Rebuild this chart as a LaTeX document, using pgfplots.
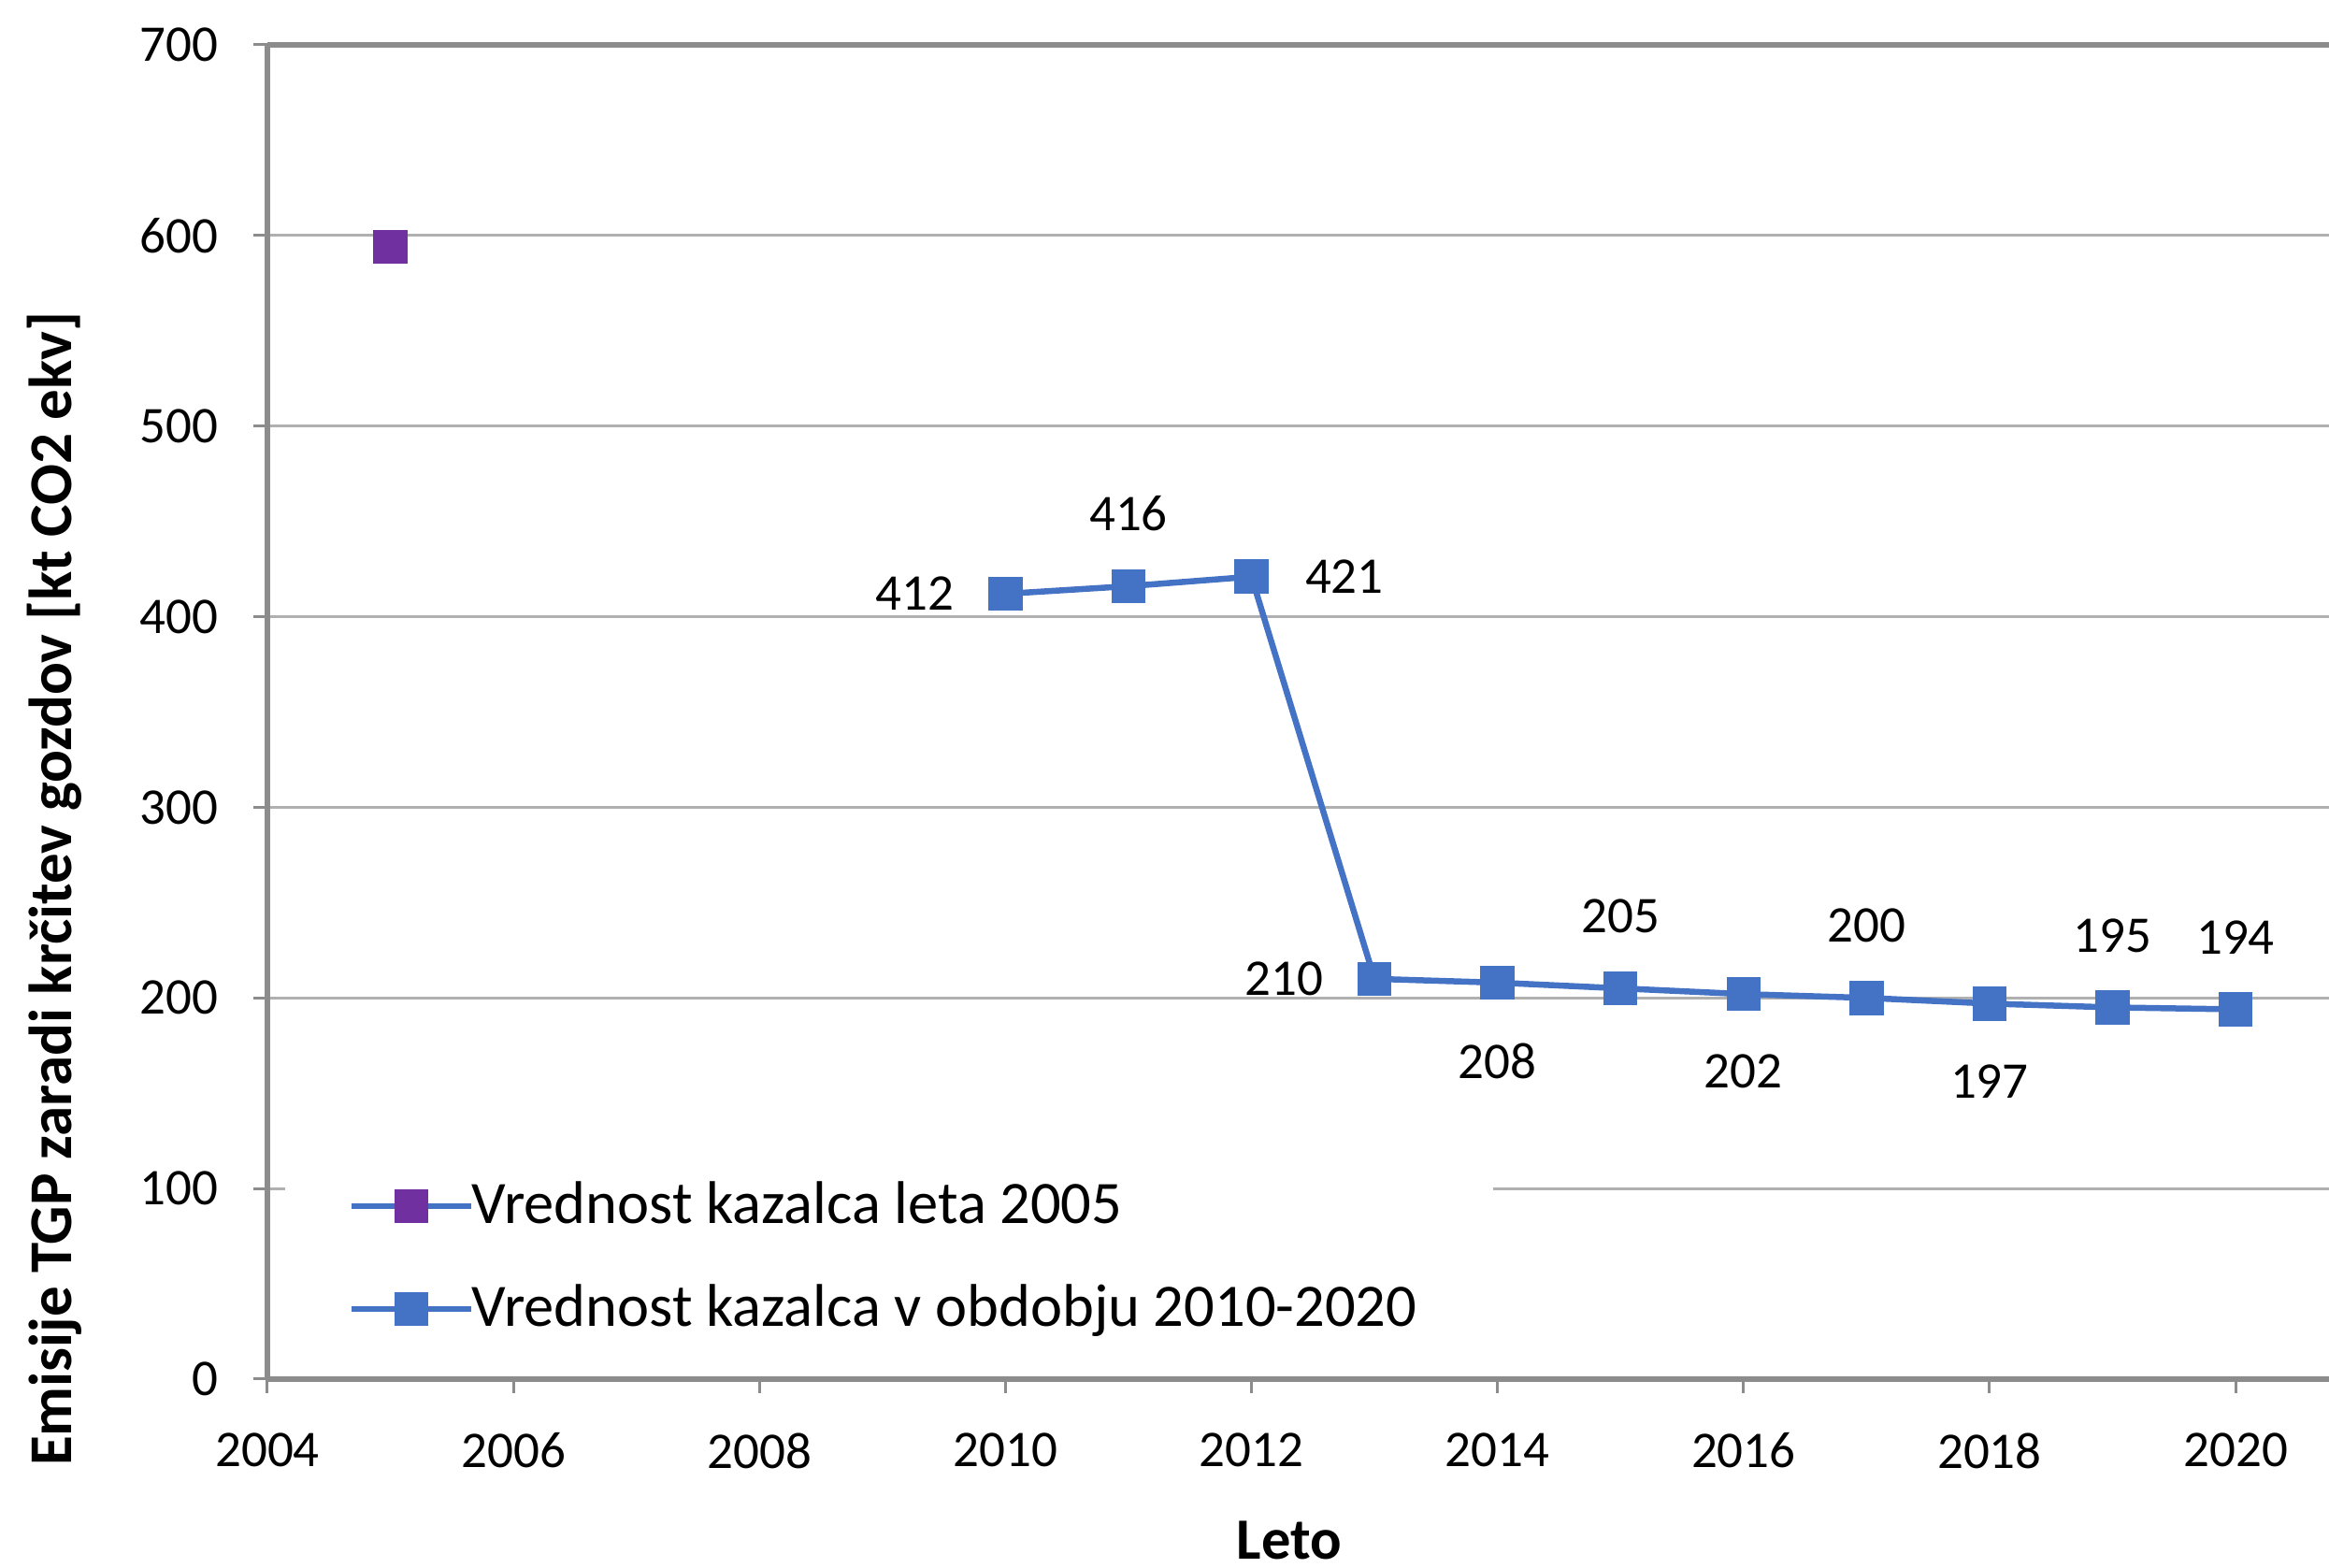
\documentclass[border=0pt]{standalone}
\usepackage{pgfplots}
\pgfplotsset{compat=1.18}
\usepackage{fontspec}
\setmainfont{Carlito}
\definecolor{serblue}{HTML}{4472C4}
\definecolor{serpurple}{HTML}{7030A0}
\definecolor{axgray}{HTML}{8C8C8C}
\definecolor{gridgray}{HTML}{B0B0B0}

\pgfplotsset{lbl/.style 2 args={draw=none, mark=none, forget plot, nodes near coords,
    every node near coord/.append style={anchor=#1, inner sep=0pt, outer sep=#2,
    text=black, font=\fontsize{11}{13}\selectfont}}}

\begin{document}
\begin{tikzpicture}
\begin{axis}[
  scale only axis, width=441pt, height=285.4pt,
  xmin=2004, xmax=2020.76, ymin=0, ymax=700,
  xtick={2004,2006,...,2020}, ytick={0,100,...,700},
  axis x line*=box, axis y line*=left,
  xtick pos=lower, ytick pos=left,
  tick align=outside, major tick length=3pt,
  every tick/.style={axgray, line width=0.6pt},
  axis line style={axgray, line width=1.2pt},
  ymajorgrids=true,
  major grid style={gridgray, line width=0.6pt},
  /pgf/number format/assume math mode=true,
  /pgf/number format/1000 sep={},
  ticklabel style={font=\fontsize{11}{13}\selectfont, text=black},
  yticklabel style={xshift=-4pt},
  xticklabel style={yshift=-5pt},
  xlabel={\textbf{Leto}},
  xlabel style={at={(rel axis cs:0.4957,0)}, anchor=center, yshift=-34.5pt, font=\fontsize{12.5}{15}\selectfont},
  ylabel={\textbf{Emisije TGP zaradi krčitev gozdov [kt CO2 ekv]}},
  ylabel style={at={(rel axis cs:0,0.3675)}, anchor=center, yshift=45.5pt, font=\fontsize{13}{15}\selectfont},
  legend style={at={(rel axis cs:0.008,0.1696)}, anchor=north west, draw=none, fill=white,
    inner xsep=14.3pt, inner ysep=4pt, font=\fontsize{12.9}{15.5}\selectfont, row sep=7.5pt,
    cells={anchor=west, inner xsep=0.5pt}},
  legend image code/.code={\draw[overlay, mark repeat=2,mark phase=2,#1] plot coordinates {(0cm,0cm) (0.45cm,0cm) (0.9cm,0cm)};
    \path[draw=none, fill=none] (0cm,-3.5pt) rectangle ([xshift=-2pt]0.9cm,3.5pt);},
  clip=false,
]
\addplot[draw=serblue, line width=1.3pt, mark=square*, mark size=3.4pt,
  mark options={draw=serpurple, fill=serpurple, line width=0.5pt}] coordinates {(2005,594)};
\addlegendentry{Vrednost kazalca leta 2005}
\addplot[draw=serblue, line width=1.3pt, mark=square*, mark size=3.4pt,
  mark options={draw=serblue, fill=serblue, line width=0.5pt}]
  coordinates {(2010,412) (2011,416) (2012,421) (2013,210) (2014,208) (2015,205) (2016,202) (2017,200) (2018,197) (2019,195) (2020,194)};
\addlegendentry{Vrednost kazalca v obdobju 2010-2020}
\addplot[lbl={east}{11pt}] coordinates {(2010,412) (2013,210)};
\addplot[lbl={south}{11.8pt}] coordinates {(2011,416) (2015,205) (2017,200) (2019,195) (2020,194)};
\addplot[lbl={west}{11.5pt}] coordinates {(2012,421)};
\addplot[lbl={north}{13pt}] coordinates {(2014,208) (2016,202) (2018,197)};
\coordinate (sw) at (rel axis cs:0,0);
\coordinate (ne) at (rel axis cs:1,1);
\end{axis}
\pgfresetboundingbox
\path ([xshift=-57.2pt,yshift=-40.4pt]sw) rectangle ([yshift=9.6pt]ne);
\end{tikzpicture}
\end{document}
